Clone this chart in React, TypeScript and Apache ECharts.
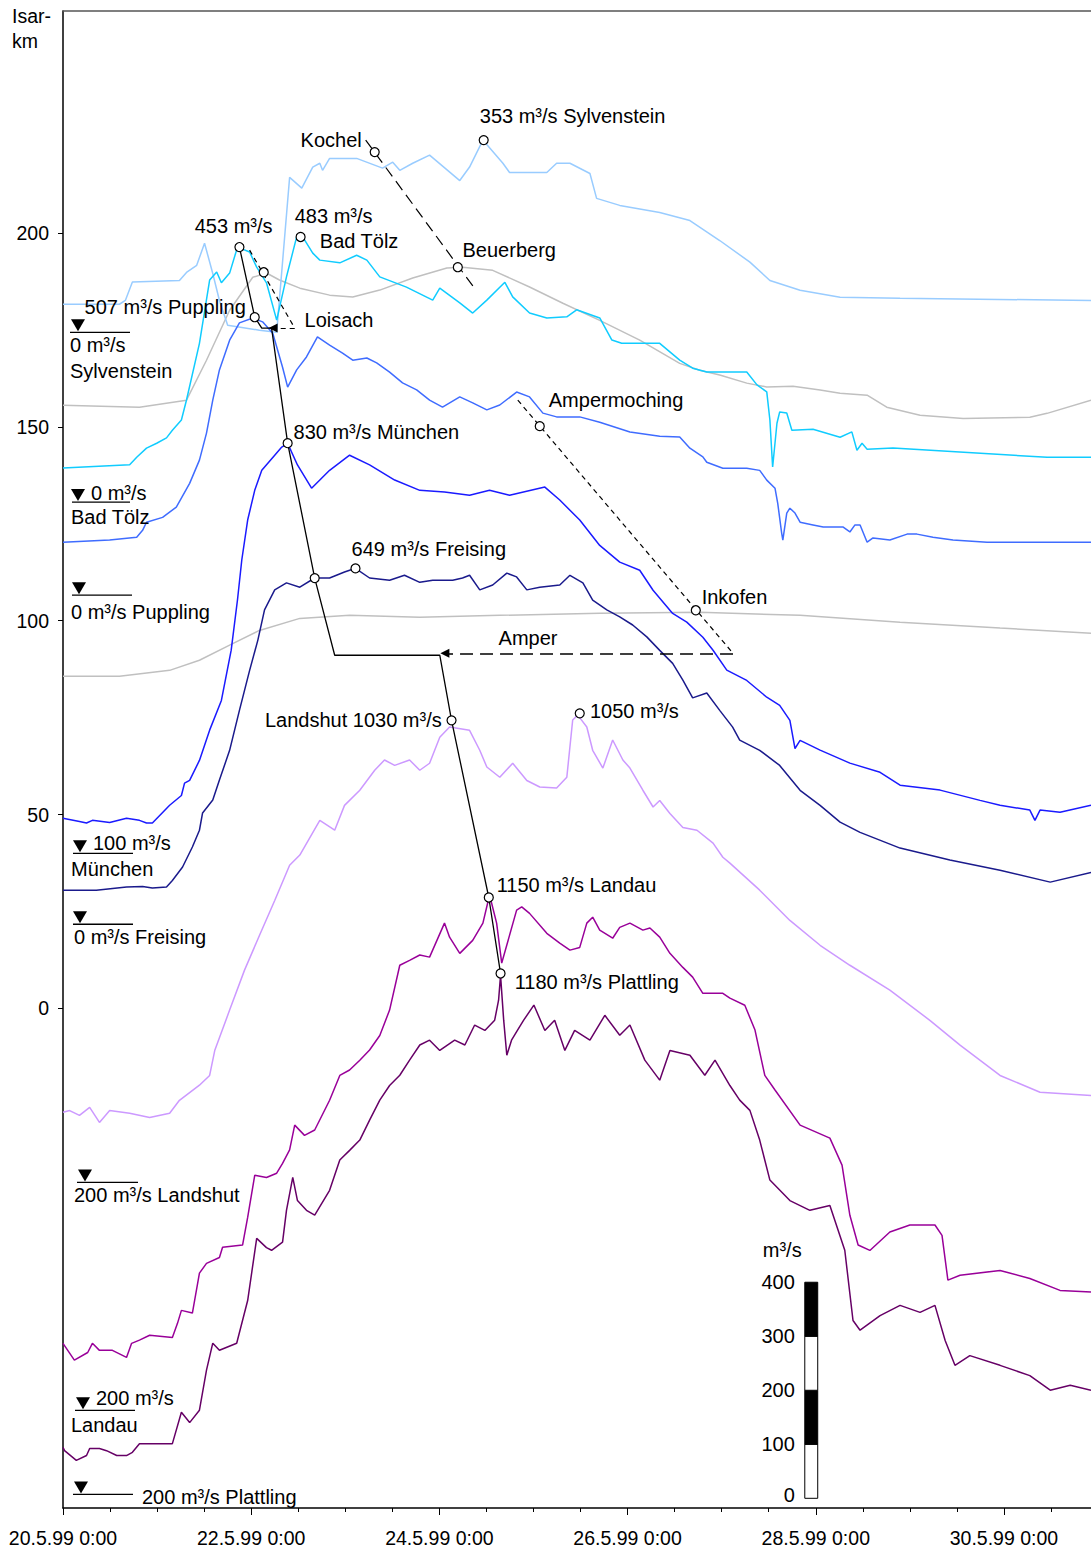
import React, { useEffect, useRef } from 'react';
import * as echarts from 'echarts';

const FONT = '"Liberation Sans", Arial, sans-serif';
const FS = 20;
const AXIS_FS = 19.5;
// plot height (Isar-km units) per m³/s of discharge (scale bar: 100 m³/s)
const KM_PER_Q = 0.13935;

// ---- hydrographs: [hours since 20.5.99 0:00, discharge m³/s] ----
const sylvenstein: number[][] = [
  [0, 52], [14.4, 52], [15.9, 59], [17.7, 93], [29.7, 96], [31.5, 111], [34.1, 124], [36.1, 165], [38.2, 109],
  [39.9, 59], [42, 13], [50.1, 4], [54.5, 0], [57.8, 287], [60.9, 267], [63.7, 306], [65.5, 313], [66.2, 300],
  [68, 322], [74.9, 322], [81.5, 304], [84.1, 315], [85.9, 300], [89.2, 313], [93.5, 328], [101.2, 281],
  [103.7, 306], [107.1, 356], [112.2, 313], [113.9, 296], [123.4, 296], [125.9, 313], [129.3, 313],
  [134.4, 294], [136.1, 248], [142, 235], [152.2, 222], [159.9, 207], [167.5, 170], [175.2, 130],
  [180.3, 96], [188, 78], [198.2, 65], [213.5, 63], [262.2, 59],
];
const badToelz: number[][] = [
  [0, 63], [17, 69], [18.8, 83], [21.3, 100], [23.9, 109], [26.4, 119], [27.9, 133], [30.2, 152], [31.5, 189],
  [34.8, 294], [37.4, 411], [39.2, 426], [40.4, 406], [42.5, 424], [44.5, 472], [47.6, 463], [49.4, 435],
  [51.9, 406], [54.5, 337], [57, 417], [59.6, 491], [60.9, 494], [63.7, 461], [65.5, 448], [70.6, 443],
  [74.9, 457], [77.5, 448], [80.8, 417], [87.6, 398], [94.3, 374], [96.1, 396], [101.2, 369], [104.5, 350],
  [108.1, 374], [112.7, 407], [114.7, 380], [119, 350], [123.4, 341], [128.5, 343], [131, 356], [136.9, 341],
  [140, 300], [142.5, 294], [152.2, 294], [157.3, 263], [160.6, 248], [164.2, 241], [174.4, 241], [177, 217],
  [179.5, 204], [180.3, 152], [181, 65], [182.1, 146], [182.8, 167], [184.6, 165], [185.9, 133], [191.3, 135],
  [198.2, 120], [201.2, 130], [202.5, 96], [203.8, 109], [205.1, 98], [211.7, 100], [251, 83], [262.2, 83],
];
const puppling: number[][] = [
  [0, 98], [11.9, 102], [18.8, 107], [20.3, 120], [21.3, 135], [25.4, 144], [28.9, 163], [32.3, 207],
  [34.8, 250], [36.6, 300], [38.2, 361], [39.9, 417], [42.5, 472], [45, 504], [48.4, 513], [50.9, 506],
  [53.5, 485], [56, 422], [57.3, 385], [59.6, 417], [62.1, 441], [64.9, 478], [68, 463], [71.3, 448],
  [73.9, 435], [77.5, 439], [80, 430], [83.3, 413], [86.6, 393], [90.2, 380], [93.5, 361], [96.8, 348],
  [101.2, 367], [104.5, 356], [108.1, 343], [111.4, 352], [115.7, 376], [119, 367], [122.4, 337], [125.9, 330],
  [131.8, 330], [136.9, 320], [144.6, 302], [152.2, 294], [157.3, 293], [159.9, 272], [163.2, 256],
  [164.2, 246], [168.3, 235], [174.4, 235], [177.7, 231], [179.5, 213], [181.6, 198], [182.3, 170],
  [183.3, 115], [183.6, 102], [184.6, 152], [185.4, 161], [186.7, 152], [188, 135], [191.3, 130],
  [193.9, 126], [199, 126], [200.7, 117], [202, 130], [203.3, 130], [205.1, 98], [206.6, 106], [210.9, 102],
  [215.3, 113], [217.8, 113], [221.9, 107], [227, 102], [235.7, 98], [262.2, 98],
];
const muenchen: number[][] = [
  [0, 165], [4.2, 159], [6, 156], [7.5, 161], [11.9, 157], [16.2, 165], [19.5, 161], [21.3, 156], [22.8, 156],
  [27.2, 189], [30.2, 207], [31, 230], [32.3, 235], [34.8, 272], [37.4, 328], [40.4, 383], [42.9, 476],
  [44.5, 569], [45.6, 643], [47.1, 717], [48.9, 772], [50.7, 809], [54, 837], [55.8, 852], [57.3, 859],
  [59.8, 819], [63.4, 776], [68, 809], [73.1, 837], [78.2, 819], [84.6, 791], [91, 772], [97.3, 769],
  [103.7, 763], [108.8, 772], [113.9, 763], [122.9, 778], [126.7, 754], [131.8, 717], [136.9, 670],
  [142, 639], [147.1, 624], [150.5, 587], [155.5, 544], [159.1, 528], [163.2, 500], [165.8, 476],
  [169.3, 439], [174.4, 420], [179.5, 389], [182.8, 374], [185.4, 346], [186.7, 294], [188, 309],
  [193.1, 291], [200.7, 267], [208.4, 250], [213.5, 226], [223.7, 217], [233.9, 198], [239, 189],
  [246.6, 180], [247.9, 161], [249.2, 180], [254.3, 176], [262.2, 189],
];
const freising: number[][] = [
  [0, 63], [8.5, 63], [16.2, 69], [20.3, 70], [22.8, 67], [26.4, 69], [27.9, 81], [30.5, 106], [33, 143],
  [34.8, 174], [35.6, 206], [38.2, 230], [39.9, 267], [42.5, 322], [45, 396], [47.6, 470], [49.7, 526],
  [51.4, 582], [54, 619], [57, 632], [60.4, 624], [64.2, 641], [68, 641], [71.8, 652], [74.6, 659],
  [78.2, 641], [83.3, 637], [87.1, 646], [91, 633], [94.3, 637], [99.4, 637], [101.9, 641], [103.7, 646],
  [106.3, 619], [109.6, 628], [113.2, 650], [115.7, 643], [118.3, 619], [121.6, 624], [126.7, 628],
  [129.3, 646], [132.6, 632], [135.1, 600], [138.7, 582], [142, 569], [145.3, 554], [148.9, 532],
  [152.2, 507], [155.5, 483], [158.1, 452], [160.6, 419], [164.2, 428], [167.5, 396], [170.8, 365],
  [172.6, 341], [177.7, 322], [182.8, 294], [188, 248], [193.1, 220], [198.2, 189], [203.3, 170],
  [213.5, 141], [226.2, 119], [239, 100], [251.8, 78], [262.2, 96],
];
const landshut: number[][] = [
  [0, 330], [1.7, 333], [4.2, 324], [6.8, 339], [9.3, 311], [11.9, 333], [17, 328], [22.1, 320], [27.2, 328],
  [29.7, 352], [34.8, 380], [37.4, 398], [38.7, 444], [42.5, 519], [46.3, 593], [50.1, 657], [54, 722],
  [57.8, 787], [60.4, 806], [65.5, 870], [69.3, 852], [71.8, 898], [75.7, 926], [79.5, 963], [82, 982],
  [84.6, 972], [88.4, 982], [91, 963], [93.5, 976], [96.1, 1024], [98.6, 1043], [103.7, 1037], [106.3, 1000],
  [108.1, 969], [111.4, 950], [114.7, 976], [118.3, 944], [121.6, 932], [125.9, 930], [128.5, 950],
  [130, 1056], [131.3, 1065], [133.6, 1043], [135.1, 1000], [137.7, 967], [140.2, 1019], [142.8, 982],
  [144.6, 967], [147.9, 926], [150.5, 895], [152.2, 907], [154.8, 883], [158.1, 857], [161.7, 852],
  [165.8, 828], [168.3, 802], [170.1, 791], [177.7, 741], [185.4, 685], [193.1, 639], [200.7, 602],
  [210.9, 556], [221.1, 500], [228.8, 454], [239, 398], [249.2, 367], [262.2, 361],
];
const landau: number[][] = [
  [0, 324], [2.9, 293], [6.3, 307], [7.5, 324], [9.3, 311], [12.6, 311], [16.2, 298], [17.5, 324], [19.5, 330],
  [22.1, 339], [27.9, 335], [29.2, 361], [30.2, 385], [33, 380], [34.8, 454], [36.6, 472], [39.9, 483],
  [40.7, 502], [45.8, 506], [47.1, 557], [48.9, 635], [51.9, 631], [54.5, 639], [56, 657], [57.8, 682],
  [59.1, 728], [61.6, 709], [64.2, 719], [68, 774], [70.6, 820], [73.1, 830], [75.7, 848], [78.2, 867],
  [80.8, 894], [83.3, 941], [85.9, 1024], [88.4, 1033], [91, 1043], [93.5, 1039], [97.3, 1102], [98.6, 1076],
  [101.2, 1046], [104.5, 1070], [107.1, 1102], [108.8, 1154], [110.6, 1102], [111.9, 1028], [115.7, 1126],
  [117, 1132], [119, 1120], [123.4, 1083], [126.7, 1065], [129.3, 1052], [131.8, 1057], [133.6, 1102],
  [135.1, 1113], [136.9, 1089], [140.2, 1074], [142, 1094], [144.6, 1102], [147.9, 1089], [149.7, 1093],
  [152.2, 1076], [154.8, 1046], [158.1, 1020], [160.6, 1002], [163.2, 972], [168.3, 972], [170.1, 963],
  [173.9, 950], [176.5, 904], [179, 820], [181.6, 793], [188, 728], [195.6, 704], [198.7, 654], [200.7, 561],
  [202.8, 506], [205.8, 496], [210.9, 530], [216, 543], [222.4, 543], [224.2, 524], [225.7, 441],
  [228.8, 450], [239, 459], [246.6, 444], [254.3, 422], [262.2, 419],
];
const plattling: number[][] = [
  [0, 287], [0.4, 281], [3.4, 263], [6, 272], [6.8, 285], [9.3, 285], [11.1, 281], [13.7, 272], [16.2, 272],
  [17.7, 278], [19.5, 294], [27.9, 294], [30.2, 352], [32.3, 333], [34.8, 356], [36.6, 430], [38.2, 480],
  [39.9, 467], [44.3, 480], [47.1, 559], [49.4, 674], [51.9, 657], [53.2, 652], [56, 667], [57, 726],
  [58.6, 787], [59.8, 744], [62.1, 726], [64.2, 717], [68, 763], [70.6, 819], [73.1, 837], [75.7, 856],
  [78.2, 893], [80.8, 930], [83.3, 957], [85.9, 976], [88.4, 1004], [91, 1032], [93.5, 1041], [96.1, 1022],
  [99.9, 1041], [102.5, 1032], [105, 1069], [107.6, 1059], [110.1, 1078], [111.1, 1115], [111.6, 1161],
  [112.4, 1078], [113.2, 1013], [114.4, 1041], [115.9, 1059], [117.5, 1078], [120.1, 1106], [122.9, 1059],
  [125.4, 1078], [128, 1022], [130.5, 1059], [134.4, 1041], [138.2, 1087], [142, 1050], [144.6, 1069],
  [148.4, 1004], [152.2, 967], [154.8, 1022], [159.9, 1013], [163.7, 976], [166.3, 1004], [170.1, 957],
  [172.6, 930], [175.2, 911], [177.7, 856], [180.3, 782], [185.4, 744], [190.5, 726], [195.6, 735],
  [199.4, 652], [201.5, 522], [203.3, 504], [208.4, 531], [213.5, 550], [218.6, 537], [222.4, 550],
  [225, 485], [227.5, 439], [231.3, 457], [239, 439], [246.6, 420], [251.8, 393], [256.9, 402], [262.2, 393],
];
// tributary curves (grey), drawn directly in Isar-km plot units
const beuerberg: number[][] = [
  [0, 155.6], [19.5, 155.1], [31.5, 156.9], [36.6, 167.2], [42.5, 180.1], [48.4, 188.6], [51.9, 189.7],
  [55.2, 187.9], [60.4, 185.8], [68, 184], [73.9, 183.5], [80.8, 185.3], [89.2, 188.4], [97.9, 191],
  [101.9, 191.2], [109.6, 190.4], [119, 186.1], [127.5, 181.9], [136.9, 177.5], [147.1, 172.4],
  [157.3, 166.4], [162.4, 164.6], [167.5, 163.4], [174.4, 161.3], [179.5, 160.3], [186.2, 160.5],
  [193.1, 159.5], [198.2, 158.7], [205.1, 158.2], [210.1, 155.1], [218.6, 153], [229.6, 152.2],
  [246.6, 152.5], [251, 153.5], [262.2, 156.9],
];
const inkofen: number[][] = [
  [0, 85.7], [14.4, 85.7], [27.2, 87.2], [34.8, 89.8], [42.5, 93.7], [50.1, 97.5], [60.4, 100.6], [73.1, 101.4],
  [91, 100.9], [111.4, 101.4], [136.9, 101.9], [162.4, 102.2], [188, 101.4], [213.5, 99.6], [239, 98.1],
  [262.2, 96.8],
];

// station reference marks: discharge at the ▼ mark and its Isar-km position
const stationNames = ['Sylvenstein', 'Bad Tölz', 'Puppling', 'München', 'Freising', 'Landshut', 'Landau', 'Plattling'];
const stationRefQ = [0, 0, 0, 100, 0, 200, 200, 200];
const stationRefKm = [174.4, 130.6, 106.6, 40.0, 21.7, -44.9, -103.7, -125.4];
const stationSeries = [sylvenstein, badToelz, puppling, muenchen, freising, landshut, landau, plattling];
const stationColors = ['#99ccff', '#10ccff', '#3f6cff', '#1a1aff', '#1a1a8c', '#cc99ff', '#990099', '#660066'];

// annotations (hours, Isar-km)
const peakPath = [[45.0, 196.4], [48.9, 178.3], [50.7, 175.5], [53.2, 175.5], [57.3, 145.8], [64.2, 111.0],
  [69.3, 91.1], [96.1, 91.1], [99.1, 74.3], [108.6, 28.6], [111.6, 9.0]];
const kochelLine = [[77.2, 224.0], [105.3, 185.3]];
const loisachLine = [[47.6, 195.6], [59.1, 175.5]];
const loisachArrow = [[59.1, 175.5], [53.6, 175.5]];
const ampermochingLine = [[116.0, 156.9], [170.9, 91.6]];
const amperArrow = [[170.9, 91.6], [97.4, 91.6]];
const peakMarkers = [[45.0, 196.4], [60.6, 199.0], [107.3, 224.0], [79.5, 220.9], [100.7, 191.2], [51.2, 189.9],
  [48.9, 178.3], [57.3, 145.8], [64.2, 111.0], [74.6, 113.5], [121.6, 150.2], [161.4, 102.7], [99.1, 74.3],
  [131.8, 76.1], [108.6, 28.6], [111.6, 9.0]];
const noteTexts = ['353 m³/s Sylvenstein', 'Kochel', '453 m³/s', '483 m³/s', 'Bad Tölz', 'Beuerberg',
  '507 m³/s Puppling', 'Loisach', 'Ampermoching', '830 m³/s München', '649 m³/s Freising', 'Inkofen', 'Amper',
  'Landshut 1030 m³/s', '1050 m³/s', '1150 m³/s Landau', '1180 m³/s Plattling'];
const notePos = [[106.3, 230.2], [76.2, 224.0], [33.6, 201.8], [59.1, 204.4], [65.5, 197.9], [101.9, 195.6],
  [5.5, 180.9], [61.6, 177.5], [123.9, 156.9], [58.8, 148.6], [73.6, 118.4], [162.9, 106.1], [111.1, 95.5],
  [96.6, 74.3], [134.4, 76.6], [110.6, 31.7], [115.2, 6.7]];
const noteRight = ['Kochel', 'Landshut 1030 m³/s'];

// scale bar (m³/s)
const scaleTicks = [0, 100, 200, 300, 400];
const scaleHours = [189.2, 192.5];
const scaleBaseKm = -126.4;

const xTickDays = ['20.5.99 0:00', '22.5.99 0:00', '24.5.99 0:00', '26.5.99 0:00', '28.5.99 0:00', '30.5.99 0:00'];
const yTicks = [0, 50, 100, 150, 200];

// station mark layout (pixel offsets from axis / reference line)
const markLayout = [
  { tri: 15, x1: 7, x2: 67, texts: [['0 m³/s', 7, 13], ['Sylvenstein', 7, 39]] },
  { tri: 15, x1: 9, x2: 67, texts: [['0 m³/s', 28, -9], ['Bad Tölz', 8, 15]] },
  { tri: 16, x1: 9, x2: 69, texts: [['0 m³/s Puppling', 8, 17]] },
  { tri: 17, x1: 10, x2: 70, texts: [['100 m³/s', 30, -10], ['München', 8, 16]] },
  { tri: 17, x1: 10, x2: 70, texts: [['0 m³/s Freising', 11, 13]] },
  { tri: 22, x1: 14, x2: 75, texts: [['200 m³/s Landshut', 11, 13]] },
  { tri: 20, x1: 12, x2: 72, texts: [['200 m³/s', 33, -12], ['Landau', 8, 15]] },
  { tri: 18, x1: 10, x2: 70, texts: [['200 m³/s Plattling', 79, 3]] },
];

function toKm(data: number[][], refQ: number, refKm: number) {
  return data.map(([h, q]) => [h, refKm + (q - refQ) * KM_PER_Q]);
}

const txt = (text: string, x: number, y: number, align = 'left') => ({
  type: 'text', x, y,
  style: { text, fill: '#000', fontSize: FS, fontFamily: FONT, align, verticalAlign: 'middle' },
});

export default function App() {
  const ref = useRef<HTMLDivElement>(null);
  useEffect(() => {
    if (!ref.current) return;
    const chart = echarts.init(ref.current, undefined, { renderer: 'svg' });
    const lineBase = { type: 'line', showSymbol: false, symbol: 'none', silent: true, animation: false };
    const series: any[] = [
      { ...lineBase, name: 'Beuerberg', data: beuerberg, lineStyle: { color: '#c0c0c0', width: 1.5 }, z: 2 },
      { ...lineBase, name: 'Inkofen', data: inkofen, lineStyle: { color: '#c0c0c0', width: 1.5 }, z: 2 },
      ...stationSeries.map((d, i) => ({
        ...lineBase, name: stationNames[i], data: toKm(d, stationRefQ[i], stationRefKm[i]),
        lineStyle: { color: stationColors[i], width: 1.5 }, z: 3,
      })),
      { ...lineBase, name: 'peak', data: peakPath, lineStyle: { color: '#000', width: 1.3 }, z: 5 },
      { ...lineBase, name: 'kochel', data: kochelLine, lineStyle: { color: '#000', width: 1.2, type: [11, 6] }, z: 5 },
      {
        ...lineBase, name: 'loisach', data: loisachLine, lineStyle: { color: '#000', width: 1.2, type: [5, 4] }, z: 5,
        markLine: {
          silent: true, symbol: ['none', 'triangle'], symbolSize: 9, label: { show: false },
          lineStyle: { color: '#000', width: 1.2, type: [5, 4] },
          data: [[{ coord: loisachArrow[0] }, { coord: loisachArrow[1] }]],
        },
      },
      {
        ...lineBase, name: 'ampermoching', data: ampermochingLine, lineStyle: { color: '#000', width: 1.2, type: [5, 4] }, z: 5,
        markLine: {
          silent: true, symbol: ['none', 'triangle'], symbolSize: 9, label: { show: false },
          lineStyle: { color: '#000', width: 1.5, type: [13, 7] },
          data: [[{ coord: amperArrow[0] }, { coord: amperArrow[1] }]],
        },
      },
      {
        type: 'scatter', data: peakMarkers, symbol: 'circle', symbolSize: 9, silent: true, z: 6,
        itemStyle: { color: '#fff', borderColor: '#000', borderWidth: 1.2, opacity: 1 },
      },
      {
        type: 'custom', silent: true, z: 7, data: notePos,
        renderItem: (p: any, api: any) => {
          const c = api.coord([api.value(0), api.value(1)]);
          const t = noteTexts[p.dataIndex];
          return txt(t, c[0], c[1], noteRight.includes(t) ? 'right' : 'left');
        },
      },
      {
        type: 'custom', silent: true, z: 7, data: stationRefKm.map((k) => [0, k]),
        renderItem: (p: any, api: any) => {
          const c = api.coord([api.value(0), api.value(1)]);
          const L = markLayout[p.dataIndex];
          const x0 = c[0], y = c[1];
          const tx = x0 + L.tri;
          return {
            type: 'group', children: [
              { type: 'polygon', shape: { points: [[tx - 7, y - 13], [tx + 7, y - 13], [tx, y - 1]] }, style: { fill: '#000' } },
              { type: 'line', shape: { x1: x0 + L.x1, y1: y, x2: x0 + L.x2, y2: y }, style: { stroke: '#000', lineWidth: 1.3 } },
              ...L.texts.map(([s, dx, dy]: any) => txt(s, x0 + dx, y + dy)),
            ],
          };
        },
      },
      {
        type: 'custom', silent: true, z: 7, data: [[scaleHours[0], scaleBaseKm]],
        renderItem: (_p: any, api: any) => {
          const xa = api.coord([scaleHours[0], scaleBaseKm])[0];
          const xb = api.coord([scaleHours[1], scaleBaseKm])[0];
          const ys = scaleTicks.map((q) => api.coord([scaleHours[0], scaleBaseKm + q * KM_PER_Q])[1]);
          const children: any[] = [];
          for (let i = 0; i < scaleTicks.length - 1; i++) {
            children.push({
              type: 'rect', shape: { x: xa, y: ys[i + 1], width: xb - xa, height: ys[i] - ys[i + 1] },
              style: { fill: i % 2 ? '#000' : '#fff', stroke: '#000', lineWidth: 1 },
            });
          }
          scaleTicks.forEach((q, i) => children.push(txt(String(q), xa - 10, ys[i] - (i === 0 ? 3 : 0), 'right')));
          children.push(txt('m³/s', xa - 42, ys[ys.length - 1] - 32));
          return { type: 'group', children };
        },
      },
    ];

    chart.setOption({
      animation: false,
      grid: { left: 63, right: 0, top: 11, bottom: 45, containLabel: false },
      xAxis: [
        {
          type: 'value', min: 0, max: 262.2, interval: 48,
          axisLine: { onZero: false, lineStyle: { color: '#000', width: 1.5 } },
          axisTick: { show: true, length: 7, lineStyle: { color: '#000' } },
          minorTick: { show: true, splitNumber: 4, length: 4, lineStyle: { color: '#000' } },
          splitLine: { show: false },
          axisLabel: {
            showMaxLabel: false, margin: 20, color: '#000', fontSize: AXIS_FS, fontFamily: FONT,
            formatter: (v: number) => (v % 48 === 0 ? xTickDays[v / 48] ?? '' : ''),
          },
        },
        {
          type: 'value', position: 'top', min: 0, max: 262.2,
          axisLine: { show: true, onZero: false, lineStyle: { color: '#555', width: 1.5 } },
          axisTick: { show: false }, axisLabel: { show: false }, splitLine: { show: false },
        },
      ],
      yAxis: {
        type: 'value', min: -128.9, max: 257.3,
        axisLine: { show: true, onZero: false, lineStyle: { color: '#000', width: 1.5 } },
        axisTick: { show: true, length: 5, customValues: yTicks, lineStyle: { color: '#000' } },
        axisLabel: { customValues: yTicks, margin: 14, color: '#000', fontSize: AXIS_FS, fontFamily: FONT },
        splitLine: { show: false },
      },
      graphic: [
        { type: 'text', left: 12, top: 3, style: { text: 'Isar-\nkm', fill: '#000', fontSize: AXIS_FS, fontFamily: FONT, lineHeight: 25 } },
      ],
      series,
    });
    return () => chart.dispose();
  }, []);
  return <div ref={ref} style={{ position: 'absolute', left: 0, top: 0, width: 1091, height: 1553, background: '#fff' }} />;
}
